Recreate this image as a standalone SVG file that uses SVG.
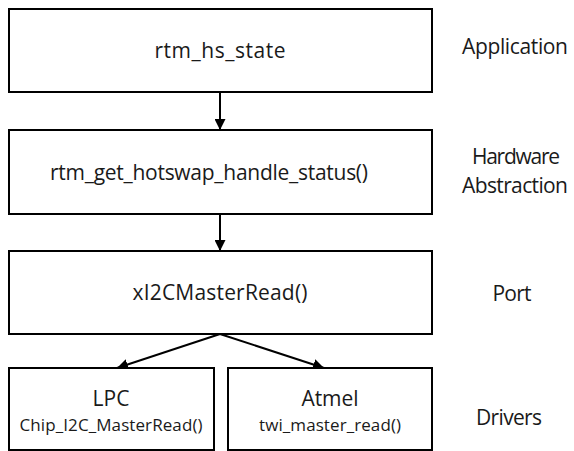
<svg xmlns="http://www.w3.org/2000/svg" width="574" height="451" viewBox="0 0 574 451">
  <style>
    .box { fill: #ffffff; stroke: #000000; stroke-width: 2; }
    .lbl { font-family: "Open Sans", "Noto Sans", "Liberation Sans", sans-serif; font-size: 21px; fill: #1a1a1a; text-anchor: middle; }
    .sub { font-size: 17px; }
    .edge { stroke: #000000; stroke-width: 2; fill: none; marker-end: url(#arrow); }
  </style>
  <defs>
    <marker id="arrow" viewBox="0 0 10 10" refX="10" refY="5" markerWidth="5.5" markerHeight="5.5" orient="auto" markerUnits="strokeWidth">
      <path d="M0,0 L10,5 L0,10 Z" fill="#000000"/>
    </marker>
  </defs>
  <rect width="574" height="451" fill="#ffffff"/>

  <g id="connectors">
    <line class="edge" x1="220" y1="92" x2="220" y2="130"/>
    <line class="edge" x1="220" y1="214" x2="220" y2="251"/>
    <line class="edge" x1="220" y1="334" x2="117" y2="368"/>
    <line class="edge" x1="220" y1="334" x2="324" y2="368"/>
  </g>

  <g id="node-app">
    <rect class="box" x="9" y="9" width="423" height="83"/>
    <text class="lbl" x="220" y="58" textLength="131">rtm_hs_state</text>
  </g>

  <g id="node-hal">
    <rect class="box" x="9" y="130" width="423" height="84"/>
    <text class="lbl" x="209" y="180" textLength="318">rtm_get_hotswap_handle_status()</text>
  </g>

  <g id="node-port">
    <rect class="box" x="9" y="251" width="423" height="83"/>
    <text class="lbl" x="220" y="300" textLength="175">xI2CMasterRead()</text>
  </g>

  <g id="node-lpc">
    <rect class="box" x="9" y="368" width="205" height="82"/>
    <text class="lbl" x="111" y="406" textLength="37">LPC</text>
    <text class="lbl sub" x="111" y="431" textLength="183">Chip_I2C_MasterRead()</text>
  </g>

  <g id="node-atmel">
    <rect class="box" x="228" y="368" width="204" height="82"/>
    <text class="lbl" x="330" y="406" textLength="57">Atmel</text>
    <text class="lbl sub" x="330" y="431" textLength="142">twi_master_read()</text>
  </g>

  <g id="layer-labels">
    <text class="lbl" x="515" y="54" textLength="106">Application</text>
    <text class="lbl" x="516" y="164" textLength="88">Hardware</text>
    <text class="lbl" x="515" y="193" textLength="106">Abstraction</text>
    <text class="lbl" x="512" y="301" textLength="39">Port</text>
    <text class="lbl" x="509" y="425" textLength="66">Drivers</text>
  </g>
</svg>
